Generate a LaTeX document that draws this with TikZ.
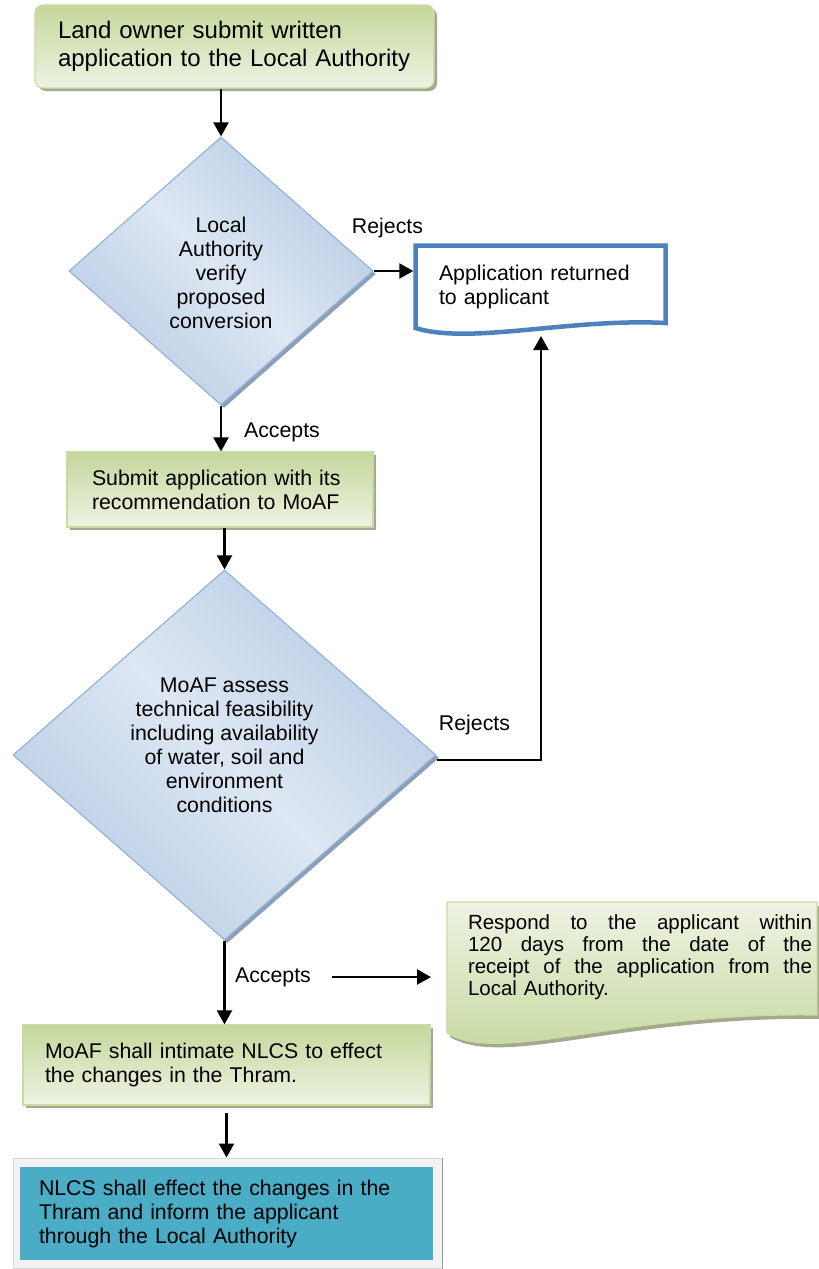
\documentclass[tikz,border=0pt]{standalone}
\usepackage{fontspec}
\setmainfont{Liberation Sans}
\usetikzlibrary{shapes.geometric,arrows.meta,shadows,calc}
\definecolor{gdark}{HTML}{C4D79B}
\definecolor{glight}{HTML}{EEF3E3}
\definecolor{gline}{HTML}{C9DBA3}
\definecolor{gshadow}{HTML}{A3A88E}
\definecolor{bdark}{HTML}{B9CDE5}
\definecolor{blight}{HTML}{DDE7F3}
\definecolor{bline}{HTML}{95B3D7}
\definecolor{bshadow}{HTML}{8C9FB8}
\definecolor{docblue}{HTML}{4F81BD}
\definecolor{tealbox}{HTML}{4BACC6}
\definecolor{framefill}{HTML}{F2F2F2}
\definecolor{framegray}{HTML}{D9D9D9}
\definecolor{framedark}{HTML}{8E9BA5}
\begin{document}
\begin{tikzpicture}[x=1pt,y=-1pt,
  body/.style={font=\fontsize{21.3}{24}\selectfont},
  gbox/.style={draw=gline, line width=1.2pt, top color=gdark, bottom color=glight,
    drop shadow={shadow xshift=3pt,shadow yshift=-3pt,fill=gshadow,opacity=1},
    inner ysep=0pt, align=left, body},
  dia/.style={diamond, draw=bline, line width=1.2pt, inner sep=0pt,
    left color=bdark, right color=bdark, middle color=blight, shading angle=-45,
    drop shadow={shadow xshift=3pt,shadow yshift=-3pt,fill=bshadow,opacity=1}},
  lbl/.style={body, inner sep=0pt},
  arr/.style={line width=2.2pt, -{Triangle[length=14pt,width=15pt]}},
]
\fill[white] (0,0) rectangle (819,1269);
\useasboundingbox (0,0) rectangle (819,1269);

% top box
\node[gbox, rounded corners=8pt, minimum width=399pt, minimum height=83pt,
  text width=353pt, inner xsep=23pt, font=\fontsize{24}{28}\selectfont]
  (b1) at (234.5,46.5) {Land owner submit written\\application to the Local Authority};

% decision 1
\node[dia, minimum width=304pt, minimum height=268pt] (d1) at (221,271) {};
\node[lbl, align=center] (d1t) at (221,273) {Local\\Authority\\verify\\proposed\\conversion};

% document shape
\draw[docblue, line width=4.5pt, fill=white, line join=miter]
  (415.5,245.5) -- (665.5,245.5) -- (665.5,323)
  .. controls (570,318) and (470,345) .. (415.5,328) -- cycle;
\node[body, inner sep=0pt, minimum width=250pt, minimum height=82.5pt,
  text width=203pt, align=left] (doc) at (540.5,286.75) {Application returned\\to applicant};

% box 2
\node[gbox, minimum width=306pt, minimum height=75pt, text width=256pt,
  inner xsep=25pt] (b2) at (220,489.5) {Submit application with its\\recommendation to MoAF};

% decision 2
\node[dia, minimum width=423pt, minimum height=370pt] (d2) at (224.5,755) {};
\node[lbl, align=center] (d2t) at (224.5,745) {MoAF assess\\technical feasibility\\including availability\\of water, soil and\\environment\\conditions};

% respond box
\draw[gline, line width=1.2pt, top color=glight, bottom color=gdark,
  drop shadow={shadow xshift=3pt,shadow yshift=-4pt,fill=gshadow,opacity=1}]
  (447,902) -- (817,902) -- (817,1015)
  .. controls (620,1012) and (500,1065) .. (447,1033) -- cycle;
\node[lbl, text width=344pt, align=left, font=\fontsize{20.5}{22}\selectfont]
  (resp) at (640,957)
  {\makebox[344pt][l]{Respond\hfill to\hfill the\hfill applicant\hfill within}\\
   \makebox[344pt][l]{120\hfill days\hfill from\hfill the\hfill date\hfill of\hfill the}\\
   \makebox[344pt][l]{receipt\hfill of\hfill the\hfill application\hfill from\hfill the}\\
   Local Authority.};

% box 3
\node[gbox, minimum width=407pt, minimum height=80pt, text width=363pt,
  inner xsep=22pt] (b3) at (226.5,1065) {MoAF shall intimate NLCS to effect\\the changes in the Thram.};

% box 4
\node[draw=framegray, fill=framefill, line width=1pt, minimum width=429pt,
  minimum height=110pt, inner sep=0pt] (b4) at (227.5,1213) {};
\draw[framedark, line width=1.5pt] (b4.north east) -- (b4.south east);
\node[fill=tealbox, minimum width=413pt, minimum height=93pt, text width=375pt,
  inner xsep=19pt, inner ysep=0pt, align=left, body] (b4t) at (226.5,1213.5)
  {NLCS shall effect the changes in the\\Thram and inform the applicant\\through the Local Authority};

% labels
\node[lbl] (rej1) at (387.5,228) {Rejects};
\node[lbl] (acc1) at (282,432) {Accepts};
\node[lbl] (rej2) at (474.5,725) {Rejects};
\node[lbl] (acc2) at (273,977) {Accepts};

% connectors
\draw[arr] (b1.south -| d1.north) -- (d1.north);
\draw[arr, shorten >=2pt] (d1.east) -- (doc.west |- d1.east);
\draw[arr] (d1.south) -- (b2.north -| d1.south);
\draw[arr] (b2.south -| d2.north) -- (d2.north);
\coordinate (r2) at (541,760);
\coordinate (docB) at (541,336);
\draw[arr] (d2.east |- r2) -- (r2) -- (docB);
\draw[arr] (d2.south) -- (b3.north -| d2.south);
\coordinate (ra) at (332,977);
\coordinate (rb) at (431,977);
\draw[arr] (ra) -- (rb);
\draw[arr, shorten <=7pt] (b3.south) -- (b3.south |- b4.north);
\end{tikzpicture}
\end{document}
